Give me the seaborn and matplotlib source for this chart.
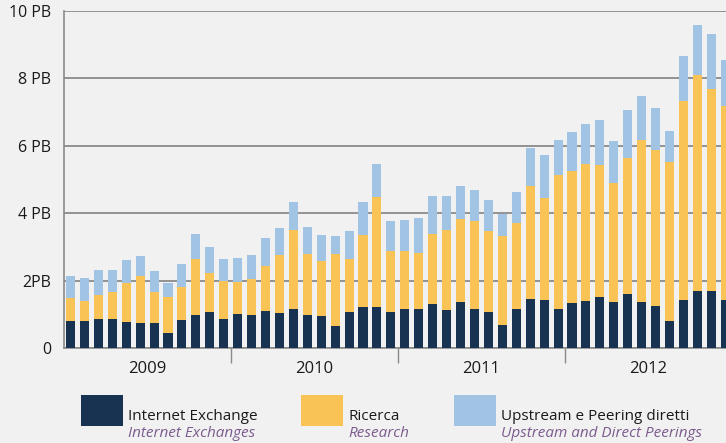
import numpy as np
import pandas as pd
import matplotlib.pyplot as plt
import seaborn as sns
from matplotlib.patches import Rectangle

# ── Data (PB per mese) ────────────────────────────────────
years = ["2009", "2010", "2011", "2012"]
months = [f"{y}-{m:02d}" for y in years for m in range(1, 13)]

internet_exchange = [0.81, 0.81, 0.87, 0.87, 0.78, 0.75, 0.75, 0.45, 0.84, 0.99, 1.08, 0.87,
                     1.02, 0.99, 1.11, 1.05, 1.17, 0.99, 0.96, 0.66, 1.08, 1.22, 1.22, 1.08,
                     1.17, 1.17, 1.31, 1.14, 1.37, 1.17, 1.08, 0.69, 1.17, 1.46, 1.43, 1.17,
                     1.34, 1.40, 1.52, 1.37, 1.61, 1.37, 1.25, 0.81, 1.43, 1.70, 1.70, 1.43]
ricerca = [0.69, 0.59, 0.71, 0.81, 1.16, 1.40, 0.93, 1.07, 0.98, 1.66, 1.15, 1.13,
           0.96, 1.05, 1.33, 1.72, 2.34, 1.81, 1.63, 2.14, 1.57, 2.14, 3.26, 1.80,
           1.71, 1.65, 2.08, 2.37, 2.46, 2.60, 2.40, 2.64, 2.54, 3.35, 3.02, 3.97,
           3.91, 4.06, 3.91, 3.53, 4.03, 4.80, 4.63, 4.71, 5.90, 6.40, 5.98, 5.76]
upstream = [0.64, 0.68, 0.74, 0.64, 0.68, 0.59, 0.61, 0.42, 0.68, 0.74, 0.77, 0.65,
            0.70, 0.73, 0.83, 0.80, 0.83, 0.80, 0.77, 0.53, 0.83, 0.98, 0.98, 0.89,
            0.92, 1.04, 1.12, 1.00, 0.98, 0.92, 0.91, 0.65, 0.92, 1.13, 1.28, 1.03,
            1.16, 1.19, 1.34, 1.25, 1.42, 1.31, 1.24, 0.91, 1.33, 1.48, 1.63, 1.37]

y_ticks = [0, 2, 4, 6, 8, 10]
y_labels = ["0", "2PB", "4 PB", "6 PB", "8 PB", "10 PB"]

NAVY = "#183352"
YELLOW = "#fac355"
BLUE = "#a1c4e4"
BG = "#f1f1f1"
GRID = "#8a8a8a"
PURPLE = "#7b5b8e"

df = pd.DataFrame({"mese": months, "ix": internet_exchange,
                   "ric": ricerca, "up": upstream})
df["top_ric"] = df["ix"] + df["ric"]
df["top_up"] = df["top_ric"] + df["up"]

sns.set_theme(style="white")
plt.rcParams["font.family"] = ["Open Sans", "DejaVu Sans"]

W, H = 726, 443
fig = plt.figure(figsize=(W / 100, H / 100), dpi=100, facecolor=BG)
ax = fig.add_axes([63.5 / W, (H - 348.3) / H, 668.7 / W, (348.3 - 11) / H])
ax.set_facecolor(BG)

# stacked bars: draw cumulative tops, back to front
for col, color in [("top_up", BLUE), ("top_ric", YELLOW), ("ix", NAVY)]:
    sns.barplot(data=df, x="mese", y=col, color=color, saturation=1,
                width=0.65, linewidth=0, ax=ax, zorder=3)

ax.set_xlim(-0.5, len(months) - 0.5)
ax.set_ylim(0, 10)
ax.set_xlabel("")
ax.set_ylabel("")

# y axis
ax.set_yticks(y_ticks)
ax.set_yticklabels(y_labels, fontsize=11.5, color="#1a1a1a")
ax.tick_params(axis="y", length=0, pad=9)
ax.yaxis.grid(True, color=GRID, linewidth=1.3)
ax.set_axisbelow(True)

# x axis: year labels centred, separators as minor ticks
ax.set_xticks([5.5, 17.5, 29.5, 41.5])
ax.set_xticklabels(years, fontsize=12, color="#1a1a1a")
ax.set_xticks([11.5, 23.5, 35.5], minor=True)
ax.tick_params(axis="x", which="major", length=0, pad=9)
ax.tick_params(axis="x", which="minor", length=11, width=1, color=GRID,
               direction="out", bottom=True)

for side in ["top", "right"]:
    ax.spines[side].set_visible(False)
for side in ["left", "bottom"]:
    ax.spines[side].set_color(GRID)
    ax.spines[side].set_linewidth(1.2)

# ── Legend (bottom) ──────────────────────────────────────
legend_items = [
    (81, NAVY, "Internet Exchange", "Internet Exchanges"),
    (301, YELLOW, "Ricerca", "Research"),
    (454, BLUE, "Upstream e Peering diretti", "Upstream and Direct Peerings"),
]
for x0, color, it, en in legend_items:
    fig.add_artist(Rectangle((x0 / W, (H - 426) / H), 42 / W, 31 / H,
                             transform=fig.transFigure, color=color, lw=0))
    fig.text((x0 + 47) / W, (H - 416) / H, it, fontsize=11,
             color="#1a1a1a", va="center", ha="left")
    fig.text((x0 + 47) / W, (H - 433.5) / H, en, fontsize=11,
             color=PURPLE, style="italic", va="center", ha="left")

fig.savefig("out.png", dpi=100, facecolor=BG)
